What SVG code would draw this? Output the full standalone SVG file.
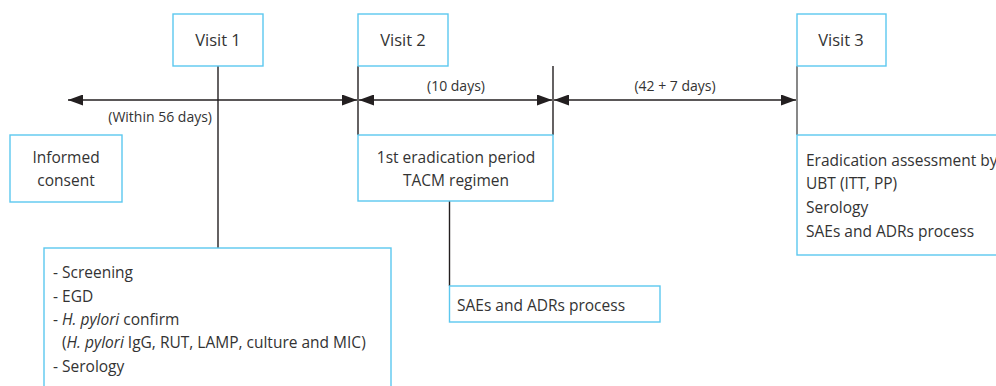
<svg xmlns="http://www.w3.org/2000/svg" width="996" height="386" viewBox="0 0 996 386">
<style>
.box{fill:#fff;stroke:#5cc8ef;stroke-width:1.4}
.ln{stroke:#231f20;stroke-width:1.4;fill:none}
text{font-family:"Open Sans","Liberation Sans",sans-serif;fill:#333}
.v{font-size:16.5px;text-anchor:middle}
.t{font-size:15.5px}
.c{text-anchor:middle}
.s{font-size:14px}
.i{font-style:italic}
</style>
<defs>
<marker id="ah" viewBox="0 0 15 11" refX="15" refY="5.5" markerWidth="15" markerHeight="11" markerUnits="userSpaceOnUse" orient="auto-start-reverse">
<path d="M0,0 L15,5.5 L0,11 Z" fill="#231f20"/>
</marker>
</defs>
<g id="connectors">
<line class="ln" x1="218" y1="66" x2="218" y2="248"/>
<line class="ln" x1="358" y1="66" x2="358" y2="135"/>
<line class="ln" x1="553" y1="66" x2="553" y2="135"/>
<line class="ln" x1="797" y1="66" x2="797" y2="135" style="stroke:#555"/>
<line class="ln" x1="449.5" y1="201" x2="449.5" y2="286"/>
<line class="ln" x1="68" y1="100" x2="357" y2="100" marker-start="url(#ah)" marker-end="url(#ah)"/>
<line class="ln" x1="359" y1="100" x2="552" y2="100" marker-start="url(#ah)" marker-end="url(#ah)"/>
<line class="ln" x1="554" y1="100" x2="796" y2="100" marker-start="url(#ah)" marker-end="url(#ah)"/>
<text class="s" x="212" y="122" text-anchor="end">(Within 56 days)</text>
<text class="s c" x="456" y="91">(10 days)</text>
<text class="s c" x="675" y="91">(42 + 7 days)</text>
</g>
<g id="visit1">
<rect class="box" x="173" y="14" width="90" height="52"/>
<text class="v" x="218" y="46">Visit 1</text>
</g>
<g id="visit2">
<rect class="box" x="358" y="14" width="90" height="52"/>
<text class="v" x="403" y="46">Visit 2</text>
</g>
<g id="visit3">
<rect class="box" x="797" y="14" width="89" height="52"/>
<text class="v" x="841" y="46">Visit 3</text>
</g>
<g id="consent">
<rect class="box" x="10" y="135" width="112" height="67"/>
<text class="t c" x="66" y="163">Informed</text>
<text class="t c" x="66" y="186">consent</text>
</g>
<g id="eradication">
<rect class="box" x="358" y="135" width="195" height="66"/>
<text class="t c" x="456" y="163">1st eradication period</text>
<text class="t c" x="456" y="186">TACM regimen</text>
</g>
<g id="assessment">
<rect class="box" x="797" y="135" width="210" height="120"/>
<text class="t" x="806" y="166">Eradication assessment by</text>
<text class="t" x="806" y="189">UBT (ITT, PP)</text>
<text class="t" x="806" y="213">Serology</text>
<text class="t" x="806" y="237">SAEs and ADRs process</text>
</g>
<g id="screening">
<rect class="box" x="44" y="248" width="347" height="150"/>
<text class="t" x="53" y="278">- Screening</text>
<text class="t" x="53" y="302">- EGD</text>
<text class="t" x="53" y="325">- <tspan class="i">H. pylori</tspan> confirm</text>
<text class="t" x="62" y="348">(<tspan class="i">H. pylori</tspan> IgG, RUT, LAMP, culture and MIC)</text>
<text class="t" x="53" y="372">- Serology</text>
</g>
<g id="saes">
<rect class="box" x="449.5" y="286" width="210.5" height="36"/>
<text class="t" x="457" y="311">SAEs and ADRs process</text>
</g>
</svg>
